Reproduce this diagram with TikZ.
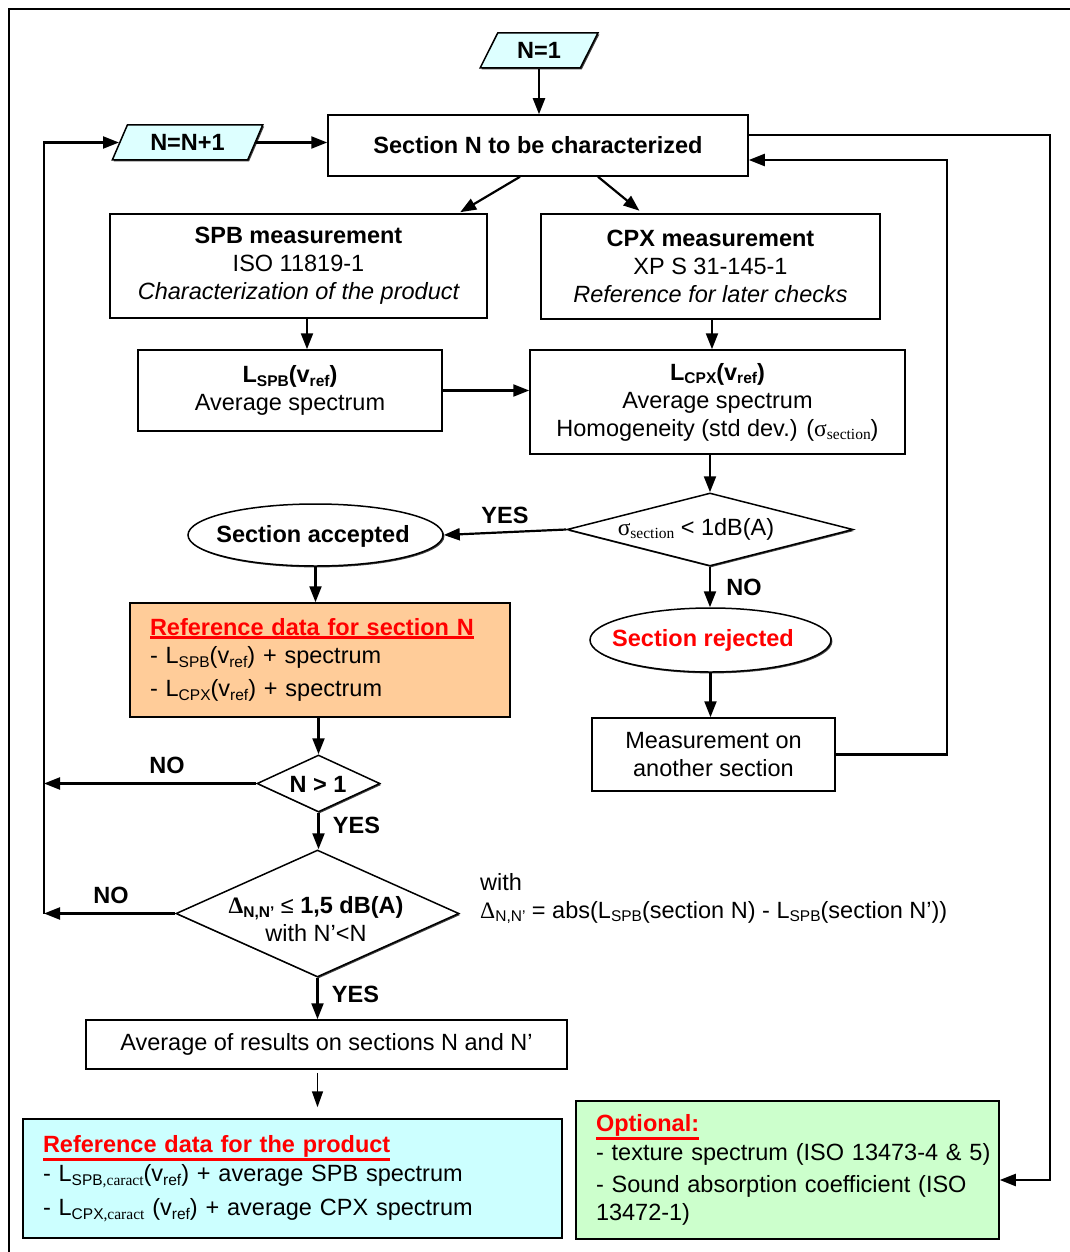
\documentclass[tikz,border=0pt]{standalone}
\usepackage{fontspec}
\setmainfont{Liberation Sans}
\newfontfamily\tms{Liberation Serif}
\usetikzlibrary{shapes.geometric,arrows.meta,shadows}
\definecolor{fcyan}{HTML}{CCFFFF}
\definecolor{fpar}{HTML}{DDFFFF}
\definecolor{forange}{HTML}{FFCC99}
\definecolor{fgreen}{HTML}{CCFFCC}
\newcommand{\sbs}[1]{\raisebox{-0.3ex}{\fontsize{15.5}{15.5}\selectfont #1}}
\newcommand{\sbt}[1]{\raisebox{-0.3ex}{\fontsize{15.5}{15.5}\selectfont\tms #1}}
\newcommand{\redul}[1]{{\color{red}\bfseries\vtop{\hbox{#1}\kern0.6pt\hrule height 2.6pt}}}
\begin{document}
\begin{tikzpicture}[x=1pt,y=-1pt,
  font=\fontsize{23.5}{28}\selectfont,
  shad/.style={drop shadow={shadow xshift=1.4pt,shadow yshift=-1.4pt,fill=black!75,opacity=1}},
  box/.style={draw,line width=1.5pt,fill=white,inner sep=0pt,shad},
  para/.style={trapezium,trapezium left angle=60,trapezium right angle=120,trapezium stretches=true,
    draw,line width=1.5pt,fill=fpar,inner sep=0pt,shad},
  dia/.style={diamond,draw,line width=1.5pt,fill=white,inner sep=0pt,shad},
  ell/.style={ellipse,draw,line width=1.5pt,fill=white,inner sep=0pt,shad},
  arr/.style={-{Triangle[length=16pt,width=12pt]},line width=2.2pt},
  arrthin/.style={-{Triangle[length=16pt,width=11pt]},line width=1.5pt},
  lab/.style={font=\fontsize{23.5}{28}\selectfont\bfseries},
  txt/.style={inner sep=0pt}]
\useasboundingbox (0,0) rectangle (1069,1252);
% outer frame
\draw[line width=2.4pt] (8,9) -- (1080,9);
\draw[line width=1.4pt] (9,9) -- (9,1270);

% nodes
\node[para,minimum width=118pt,minimum height=35pt] (n1) at (539,50.5) {\bfseries N=1};
\node[para,minimum width=151pt,minimum height=35pt] (nn) at (187.5,142.5) {\bfseries N=N+1};
\node[box,minimum width=420pt,minimum height=61pt] (sec) at (538,145.5) {\bfseries Section N to be characterized};
\node[box,minimum width=377pt,minimum height=104pt,align=center] (spb) at (298.5,266)
  {{\bfseries SPB measurement}\\ISO 11819-1\\{\itshape Characterization of the product}};
\node[box,minimum width=339pt,minimum height=105pt,align=center] (cpx) at (710.5,266.5)
  {{\bfseries CPX measurement}\\XP S 31-145-1\\{\itshape Reference for later checks}};
\node[box,minimum width=304pt,minimum height=81pt,align=center] (lspb) at (290,390.5)
  {{\bfseries L\sbs{SPB}(v\sbs{ref})}\\Average spectrum};
\node[box,minimum width=375pt,minimum height=104pt,align=center] (lcpx) at (717.5,402)
  {{\bfseries L\sbs{CPX}(v\sbs{ref})}\\Average spectrum\\Homogeneity (std dev.) ({\tms σ}\sbt{section})};
\node[dia,minimum width=286pt,minimum height=73pt] (d1) at (710,529.5) {};
\node[txt] (d1t) at (696,529) {{\tms σ}\sbt{section} < 1dB(A)};
\node[ell,minimum width=255pt,minimum height=62pt] (acc) at (315.5,535) {};
\node[txt] (acct) at (313,536) {\bfseries Section accepted};
\node[ell,minimum width=241pt,minimum height=64pt] (rej) at (710.5,640) {};
\node[txt] (rejt) at (703,640) {\color{red}\bfseries Section rejected};
\node[box,minimum width=243pt,minimum height=73pt,align=center] (meas) at (713.5,754.5)
  {Measurement on\\another section};
\node[box,fill=forange,minimum width=380pt,minimum height=114pt,align=left,text width=340pt] (refN) at (320,660)
  {\redul{Reference data for section N}\\[0pt]
   - L\sbs{SPB}(v\sbs{ref}) + spectrum\\[5pt]
   - L\sbs{CPX}(v\sbs{ref}) + spectrum};
\node[dia,minimum width=123pt,minimum height=57pt] (d2) at (318.5,783.5) {};
\node[txt] (d2t) at (318,784) {\bfseries N > 1};
\node[dia,minimum width=283pt,minimum height=127pt] (d3) at (317.5,913.5) {};
\node[txt,align=center] (d3t) at (316,919)
  {{\bfseries{\tms Δ}\sbs{N,N’} {\mdseries ≤} 1,5 dB(A)}\\with N’<N};
\node[txt,anchor=west,align=left] (with) at (480,898.5)
  {with\\{\tms Δ}\sbs{N,N’} = abs(L\sbs{SPB}(section N) - L\sbs{SPB}(section N’))};
\node[box,minimum width=481pt,minimum height=49pt] (avg) at (326.5,1044.5) {Average of results on sections N and N’};
\node[box,fill=fcyan,minimum width=539pt,minimum height=119pt,align=left,text width=499pt] (prod) at (292.5,1178.5)
  {\redul{Reference data for the product}\\[1pt]
   - L\sbs{SPB{\tms ,caract}}(v\sbs{ref}) + average SPB spectrum\\[6pt]
   - L\sbs{CPX{\tms ,caract}} (v\sbs{ref}) + average CPX spectrum};
\node[box,fill=fgreen,minimum width=423pt,minimum height=138pt,align=left,text width=383pt] (opt) at (787.5,1170)
  {\redul{Optional:}\\[1pt]
   \mbox{- texture spectrum (ISO 13473-4 \& 5)}\\[4pt]
   - Sound absorption coefficient (ISO\\13472-1)};

% helper coordinates
\coordinate (lft) at (44,0);
\coordinate (rr) at (1050,0);
\coordinate (rm) at (947,0);

% connectors
\draw[arr] (n1.south) -- (n1.south |- sec.north);
\draw[arr] (nn.east) -- (nn.east -| sec.west);
\draw[arr,shorten >=2pt] ([xshift=-18pt]sec.south) -- ([xshift=160pt]spb.north);
\draw[arr,shorten >=4pt] ([xshift=60pt]sec.south) -- ([xshift=-68pt]cpx.north);
\draw[arr] ([xshift=8.5pt]spb.south) -- ([xshift=8.5pt]spb.south |- lspb.north);
\draw[arr] ([xshift=1.5pt]cpx.south) -- ([xshift=1.5pt]cpx.south |- lcpx.north);
\draw[arr] (lspb.east) -- (lspb.east -| lcpx.west);
\draw[arr] (d1.north |- lcpx.south) -- (d1.north);
\draw[arr] (d1.west) -- (acc.east) node[lab,midway,above=4pt] (yes1) {YES};
\draw[arr] (d1.south) -- (d1.south |- rej.north) node[lab,midway,right=12pt] (no1) {NO};
\draw[arr] (rej.south) -- (rej.south |- meas.north);
\draw[arr] (meas.east) -- (meas.east -| rm) |- ([yshift=-14.5pt]sec.east);
\draw[arr] ([yshift=10.5pt]sec.east) -- ([yshift=10.5pt]sec.east -| rr) |- ([yshift=-10pt]opt.east);
\draw[arr] (acc.south) -- (acc.south |- refN.north);
\draw[arr] (d2.north |- refN.south) -- (d2.north);
\draw[arr] (d2.west) -- (d2.west -| lft) node[lab,pos=0.42,above=5pt] (no2) {NO};
\draw[arr] (d2.south) -- (d2.south |- d3.north) node[lab,pos=0.35,right=10pt] (yes2) {YES};
\draw[arr] (d3.west) -- (d3.west -| lft) node[lab,pos=0.49,above=5pt] (no3) {NO};
\draw[arr] (d3.west -| lft) |- (nn.west);
\draw[arr] (d3.south) -- (d3.south |- avg.north) node[lab,pos=0.4,right=10pt] (yes3) {YES};
\draw[arrthin,shorten <=3pt,shorten >=11pt] (d3.south |- avg.south) -- (d3.south |- prod.north);
\end{tikzpicture}
\end{document}
